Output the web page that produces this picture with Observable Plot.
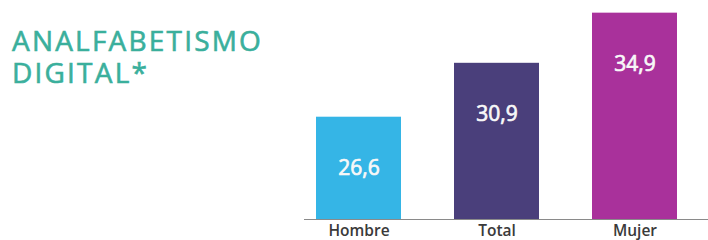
<!DOCTYPE html>
<html>
<head>
<meta charset="utf-8">
<script src="https://cdn.jsdelivr.net/npm/d3@7"></script>
<script src="https://cdn.jsdelivr.net/npm/@observablehq/plot@0.6"></script>
<style>
  html, body { margin: 0; padding: 0; background: #fff; }
  #wrap { position: relative; width: 708px; height: 240px; overflow: hidden; }
  .title { position: absolute; left: 12px; font-family: "Open Sans", sans-serif; font-size: 28px; line-height: 30px; font-weight: 400; color: #3aaf9c; -webkit-text-stroke: 0.6px #3aaf9c; letter-spacing: 2.2px; white-space: nowrap; }
  #t1 { top: 25px; }
  #t2 { top: 57px; }
  #chart { position: absolute; left: 0; top: 0; }
</style>
</head>
<body>
<div id="wrap">
  <div id="chart"></div>
  <div class="title" id="t1">ANALFABETISMO</div>
  <div class="title" id="t2">DIGITAL*</div>
</div>
<script>
const categories = ["Hombre", "Total", "Mujer"];
const values = [26.6, 30.9, 34.9];
const colors = ["#35b5e6", "#4a3f7b", "#a9319b"];

const data = categories.map((c, i) => ({category: c, value: values[i], color: colors[i]}));
const yMin = 18.44;
const fmt = v => v.toFixed(1).replace(".", ",");

const chart = Plot.plot({
  width: 708,
  height: 240,
  marginLeft: 304,
  marginRight: 0,
  marginTop: 0,
  marginBottom: 21,
  style: {fontFamily: "Open Sans, sans-serif", background: "transparent"},
  x: {domain: categories, paddingInner: 0.381, paddingOuter: 0.144, align: 0.275, label: null},
  y: {domain: [yMin, 35.91], axis: null},
  marks: [
    Plot.barY(data, {x: "category", y1: yMin, y2: "value", fill: "color"}),
    Plot.ruleY([yMin], {stroke: "#8a8a8a", strokeWidth: 1.2}),
    Plot.text(data, {x: "category", y: "value", text: d => fmt(d.value), dy: 51, fill: "#f8f8f8", stroke: "#f8f8f8", strokeWidth: 0.7, fontSize: 21, fontWeight: 400}),
    Plot.axisX({tickSize: 0, tickPadding: 5, fontSize: 15.5, fontWeight: 600, fill: "#3a3a3a", label: null})
  ]
});
document.getElementById("chart").appendChild(chart);
</script>
</body>
</html>
